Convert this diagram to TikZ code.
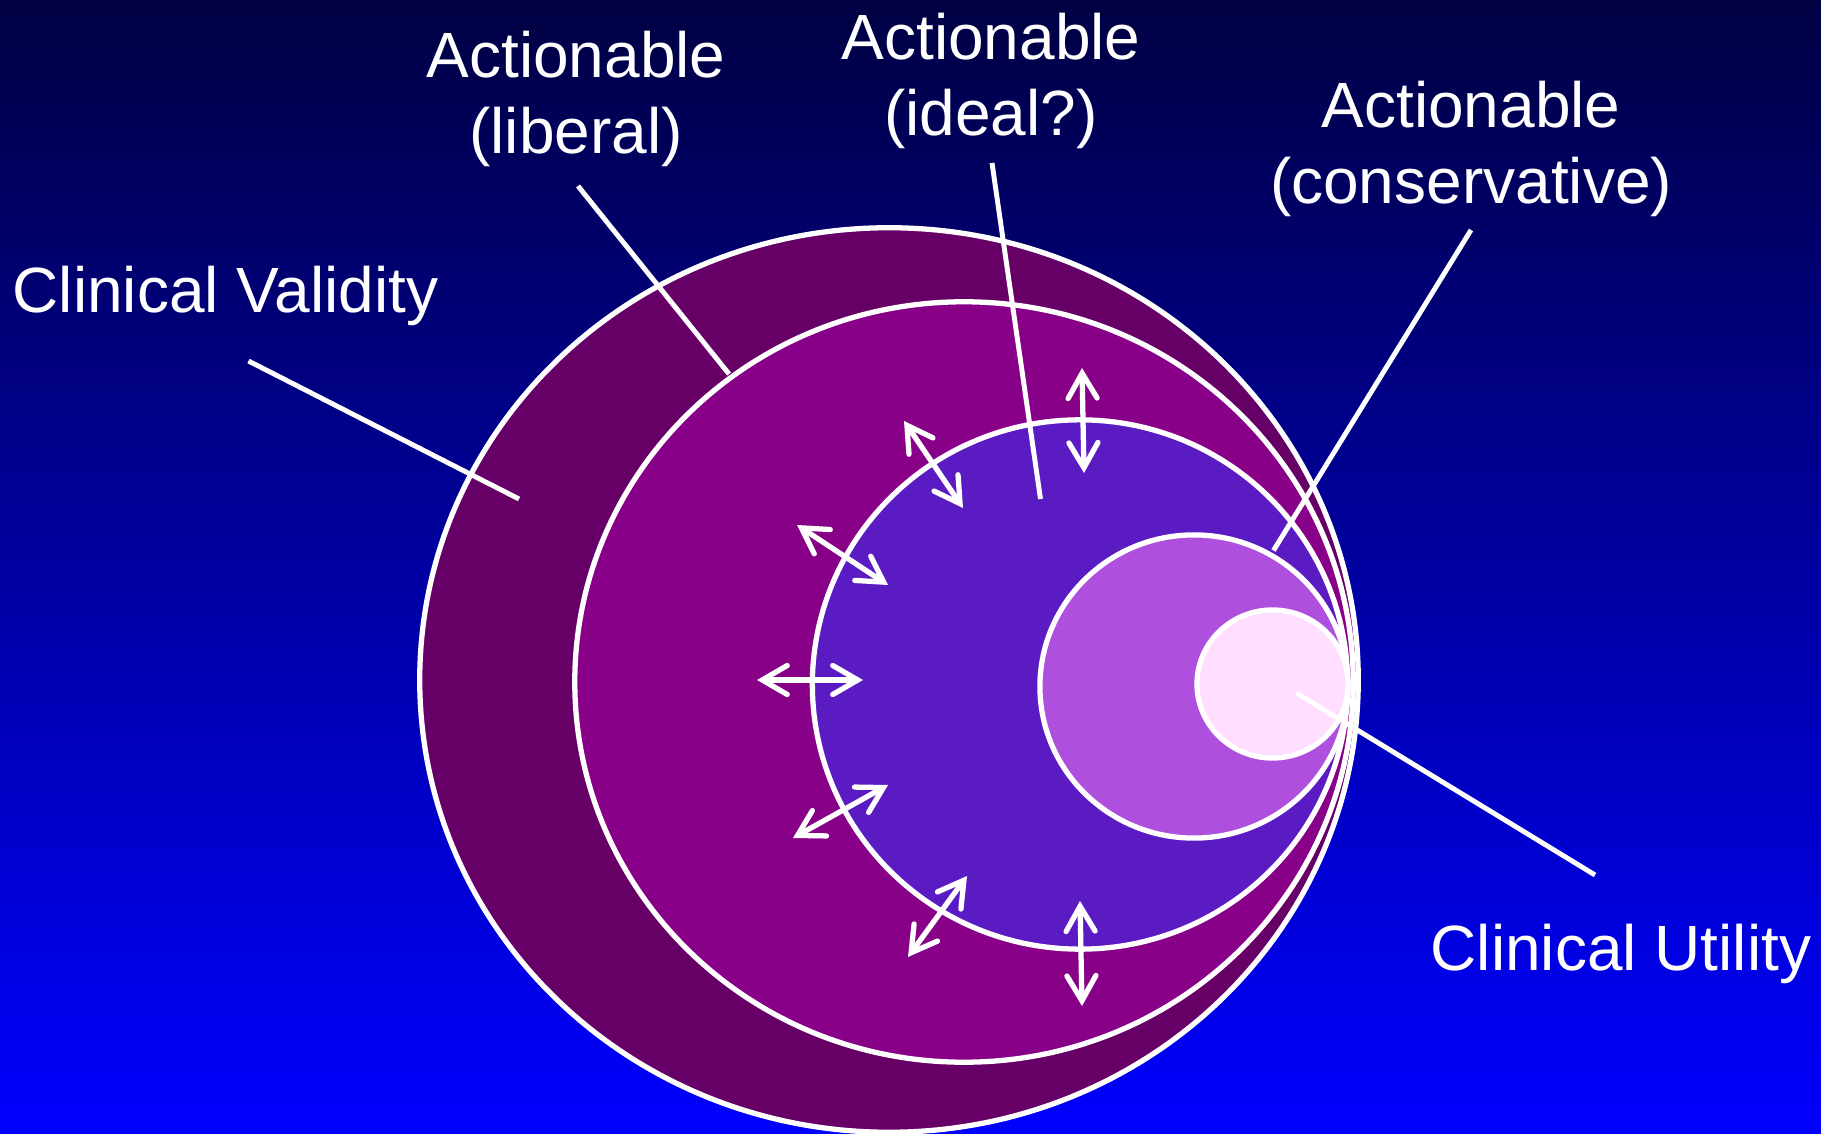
\documentclass[tikz,border=0pt]{standalone}
\usepackage{fontspec}
\setmainfont{Liberation Sans}
\usetikzlibrary{arrows.meta}

\definecolor{bgtop}{RGB}{0,0,66}
\definecolor{bgbottom}{RGB}{0,0,255}
\definecolor{ringvalid}{RGB}{102,0,102}
\definecolor{ringliberal}{RGB}{136,0,136}
\definecolor{ringideal}{RGB}{91,27,195}
\definecolor{ringconserv}{RGB}{174,79,222}
\definecolor{ringutility}{RGB}{255,222,255}

\tikzset{
  ring/.style={draw=white, line width=1.5pt},
  lbl/.style={text=white, font=\fontsize{18.2}{21.6}\selectfont, inner sep=0pt},
  multilbl/.style={lbl, align=center, anchor=north},
  leader/.style={draw=white, line width=1.4pt},
  barb/.tip={Straight Barb[length=2.5mm, width=2.9mm, line cap=round, line join=miter]},
  shiftarrow/.style={draw=white, line width=1.5pt, {barb}-{barb}},
}

\begin{document}
\begin{tikzpicture}[x=0.01cm, y=-0.01cm]
  % canvas with vertical blue gradient
  \useasboundingbox (0,0) rectangle (1821,1134);
  \shade[top color=bgtop, bottom color=bgbottom] (0,0) rectangle (1821,1134);

  % nested regions, largest first
  \coordinate (cValid)    at (889,680);
  \coordinate (cLiberal)  at (964,682);
  \coordinate (cIdeal)    at (1080,684.5);
  \coordinate (cConserv)  at (1194,686.5);
  \coordinate (cUtility)  at (1272.5,684);

  \path[ring, fill=ringvalid]   (cValid)   ellipse [x radius=4.69cm,  y radius=4.52cm];
  \path[ring, fill=ringliberal] (cLiberal) ellipse [x radius=3.89cm,  y radius=3.80cm];
  \path[ring, fill=ringideal]   (cIdeal)   ellipse [x radius=2.675cm, y radius=2.645cm];
  \path[ring, fill=ringconserv] (cConserv) ellipse [x radius=1.54cm,  y radius=1.515cm];
  \path[ring, fill=ringutility] (cUtility) ellipse [x radius=0.755cm, y radius=0.74cm];

  % labels
  \node[lbl, anchor=base west] (validity) at (12,313) {Clinical Validity};
  \node[multilbl] (liberal) at (576,30.5) {Actionable\\(liberal)};
  \node[multilbl] (ideal) at (991,12.5) {Actionable\\(ideal?)};
  \node[multilbl] (conserv) at (1471,80.5) {Actionable\\(conservative)};
  \node[lbl, anchor=base west] (utility) at (1430,970) {Clinical Utility};

  % leader lines
  \coordinate (validA) at (248.5,361);   \coordinate (validB) at (519,499);
  \coordinate (libA)   at (578,186);     \coordinate (libB)   at (729,374);
  \coordinate (idealA) at (992,163);     \coordinate (idealB) at (1040.5,499);
  \coordinate (consA)  at (1471,230);    \coordinate (consB)  at (1273.5,550.5);
  \coordinate (utilA)  at (1296.5,693);  \coordinate (utilB)  at (1595,875);

  \draw[leader] (validA) -- (validB);
  \draw[leader] (libA) -- (libB);
  \draw[leader] (idealA) -- (idealB);
  \draw[leader] (consA) -- (consB);
  \draw[leader] (utilA) -- (utilB);

  % two-way arrows across the ideal boundary
  \coordinate (a1) at (1082,368);  \coordinate (a2) at (1084,473);
  \coordinate (b1) at (904,421);   \coordinate (b2) at (963,508);
  \coordinate (c1) at (797,525);   \coordinate (c2) at (888,585);
  \coordinate (d1) at (757,680);   \coordinate (d2) at (863,680);
  \coordinate (e1) at (793,838);   \coordinate (e2) at (888,785);
  \coordinate (f1) at (908,957);   \coordinate (f2) at (967,876);
  \coordinate (g1) at (1080,901);  \coordinate (g2) at (1082,1006);

  \foreach \p in {a,b,c,d,e,f,g}{
    \draw[shiftarrow] (\p1) -- (\p2);
  }
\end{tikzpicture}
\end{document}
